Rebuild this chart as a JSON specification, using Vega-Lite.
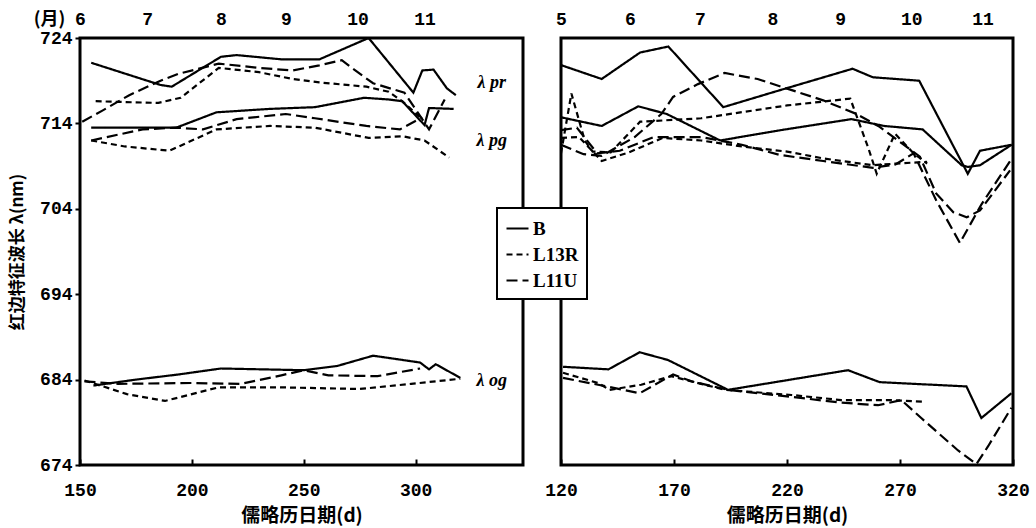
{
  "$schema": "https://vega.github.io/schema/vega-lite/v6.json",
  "padding": {"left": 7, "top": 8, "right": 5, "bottom": 1},
  "spacing": 18,
  "config": {
    "view": {"stroke": "black", "strokeWidth": 3},
    "axis": {"grid": false, "domain": false, "labelFont": "Liberation Mono", "labelFontWeight": "bold", "labelFontSize": 18, "labelColor": "black", "titleColor": "black", "tickColor": "black", "tickWidth": 2, "labelFlush": false, "labelOverlap": false, "titleFont": "Noto Sans CJK SC", "titleFontWeight": "bold", "titleFontSize": 18},
    "line": {"strokeWidth": 2.2, "color": "black"},
    "legend": {"orient": "none", "legendX": 417, "legendY": 170, "fillColor": "white", "strokeColor": "black", "strokeWidth": 2, "padding": 8, "rowPadding": 3, "symbolType": "stroke", "symbolSize": 484, "symbolStrokeWidth": 2, "symbolStrokeColor": "black", "labelFont": "Liberation Serif", "labelFontWeight": "bold", "labelFontSize": 19, "labelColor": "black", "labelOffset": 3, "symbolOffset": 0, "zindex": 5}
  },
  "datasets": {
    "lines": [
      {"panel":"L","group":"pr","series":"B","day":155,"value":721.1},
      {"panel":"L","group":"pr","series":"B","day":186,"value":718.5},
      {"panel":"L","group":"pr","series":"B","day":191,"value":718.3},
      {"panel":"L","group":"pr","series":"B","day":213,"value":721.8},
      {"panel":"L","group":"pr","series":"B","day":220,"value":722},
      {"panel":"L","group":"pr","series":"B","day":240,"value":721.5},
      {"panel":"L","group":"pr","series":"B","day":257,"value":721.5},
      {"panel":"L","group":"pr","series":"B","day":279,"value":724},
      {"panel":"L","group":"pr","series":"B","day":299,"value":717.6},
      {"panel":"L","group":"pr","series":"B","day":303,"value":720.2},
      {"panel":"L","group":"pr","series":"B","day":308,"value":720.3},
      {"panel":"L","group":"pr","series":"B","day":314,"value":718.1},
      {"panel":"L","group":"pr","series":"B","day":318,"value":717.3},

      {"panel":"L","group":"pr","series":"L11U","day":151,"value":714.2},
      {"panel":"L","group":"pr","series":"L11U","day":160,"value":715.5},
      {"panel":"L","group":"pr","series":"L11U","day":172,"value":717.3},
      {"panel":"L","group":"pr","series":"L11U","day":186,"value":719},
      {"panel":"L","group":"pr","series":"L11U","day":194,"value":719.8},
      {"panel":"L","group":"pr","series":"L11U","day":212,"value":721},
      {"panel":"L","group":"pr","series":"L11U","day":230,"value":720.5},
      {"panel":"L","group":"pr","series":"L11U","day":245,"value":720.2},
      {"panel":"L","group":"pr","series":"L11U","day":257,"value":720.8},
      {"panel":"L","group":"pr","series":"L11U","day":267,"value":721.4},
      {"panel":"L","group":"pr","series":"L11U","day":272,"value":720.4},
      {"panel":"L","group":"pr","series":"L11U","day":281,"value":718.7},
      {"panel":"L","group":"pr","series":"L11U","day":295,"value":717.6},
      {"panel":"L","group":"pr","series":"L11U","day":306,"value":713.3},
      {"panel":"L","group":"pr","series":"L11U","day":313,"value":716.8},

      {"panel":"L","group":"pr","series":"L13R","day":157,"value":716.6},
      {"panel":"L","group":"pr","series":"L13R","day":170,"value":716.5},
      {"panel":"L","group":"pr","series":"L13R","day":185,"value":716.4},
      {"panel":"L","group":"pr","series":"L13R","day":195,"value":717},
      {"panel":"L","group":"pr","series":"L13R","day":212,"value":720.5},
      {"panel":"L","group":"pr","series":"L13R","day":230,"value":720},
      {"panel":"L","group":"pr","series":"L13R","day":245,"value":719.2},
      {"panel":"L","group":"pr","series":"L13R","day":257,"value":718.8},
      {"panel":"L","group":"pr","series":"L13R","day":278,"value":718.3},
      {"panel":"L","group":"pr","series":"L13R","day":288,"value":717.7},
      {"panel":"L","group":"pr","series":"L13R","day":294,"value":716.6},
      {"panel":"L","group":"pr","series":"L13R","day":303,"value":714.5},

      {"panel":"L","group":"pg","series":"B","day":155,"value":713.5},
      {"panel":"L","group":"pg","series":"B","day":193,"value":713.5},
      {"panel":"L","group":"pg","series":"B","day":211,"value":715.3},
      {"panel":"L","group":"pg","series":"B","day":235,"value":715.7},
      {"panel":"L","group":"pg","series":"B","day":255,"value":715.9},
      {"panel":"L","group":"pg","series":"B","day":277,"value":717},
      {"panel":"L","group":"pg","series":"B","day":288,"value":716.8},
      {"panel":"L","group":"pg","series":"B","day":294,"value":716.6},
      {"panel":"L","group":"pg","series":"B","day":304,"value":713.8},
      {"panel":"L","group":"pg","series":"B","day":306,"value":715.8},
      {"panel":"L","group":"pg","series":"B","day":317,"value":715.7},

      {"panel":"L","group":"pg","series":"L11U","day":155,"value":712},
      {"panel":"L","group":"pg","series":"L11U","day":178,"value":713.3},
      {"panel":"L","group":"pg","series":"L11U","day":193,"value":713.5},
      {"panel":"L","group":"pg","series":"L11U","day":205,"value":713.3},
      {"panel":"L","group":"pg","series":"L11U","day":220,"value":714.5},
      {"panel":"L","group":"pg","series":"L11U","day":242,"value":715.1},
      {"panel":"L","group":"pg","series":"L11U","day":255,"value":714.6},
      {"panel":"L","group":"pg","series":"L11U","day":278,"value":713.7},
      {"panel":"L","group":"pg","series":"L11U","day":293,"value":713.3},
      {"panel":"L","group":"pg","series":"L11U","day":303,"value":714.7},

      {"panel":"L","group":"pg","series":"L13R","day":155,"value":712},
      {"panel":"L","group":"pg","series":"L13R","day":170,"value":711.3},
      {"panel":"L","group":"pg","series":"L13R","day":190,"value":710.8},
      {"panel":"L","group":"pg","series":"L13R","day":211,"value":713.3},
      {"panel":"L","group":"pg","series":"L13R","day":235,"value":713.7},
      {"panel":"L","group":"pg","series":"L13R","day":255,"value":713.5},
      {"panel":"L","group":"pg","series":"L13R","day":279,"value":712.3},
      {"panel":"L","group":"pg","series":"L13R","day":294,"value":712.5},
      {"panel":"L","group":"pg","series":"L13R","day":304,"value":712},
      {"panel":"L","group":"pg","series":"L13R","day":315,"value":710},

      {"panel":"L","group":"og","series":"B","day":156,"value":683.3},
      {"panel":"L","group":"og","series":"B","day":175,"value":684},
      {"panel":"L","group":"og","series":"B","day":194,"value":684.6},
      {"panel":"L","group":"og","series":"B","day":213,"value":685.3},
      {"panel":"L","group":"og","series":"B","day":250,"value":685.1},
      {"panel":"L","group":"og","series":"B","day":265,"value":685.6},
      {"panel":"L","group":"og","series":"B","day":281,"value":686.8},
      {"panel":"L","group":"og","series":"B","day":302,"value":686},
      {"panel":"L","group":"og","series":"B","day":306,"value":685.2},
      {"panel":"L","group":"og","series":"B","day":309,"value":685.8},
      {"panel":"L","group":"og","series":"B","day":320,"value":684.2},

      {"panel":"L","group":"og","series":"L11U","day":152,"value":683.8},
      {"panel":"L","group":"og","series":"L11U","day":167,"value":683.5},
      {"panel":"L","group":"og","series":"L11U","day":200,"value":683.6},
      {"panel":"L","group":"og","series":"L11U","day":222,"value":683.5},
      {"panel":"L","group":"og","series":"L11U","day":240,"value":684.5},
      {"panel":"L","group":"og","series":"L11U","day":250,"value":685.1},
      {"panel":"L","group":"og","series":"L11U","day":261,"value":684.5},
      {"panel":"L","group":"og","series":"L11U","day":283,"value":684.4},
      {"panel":"L","group":"og","series":"L11U","day":302,"value":685.3},

      {"panel":"L","group":"og","series":"L13R","day":152,"value":683.9},
      {"panel":"L","group":"og","series":"L13R","day":171,"value":682.3},
      {"panel":"L","group":"og","series":"L13R","day":188,"value":681.5},
      {"panel":"L","group":"og","series":"L13R","day":212,"value":683.1},
      {"panel":"L","group":"og","series":"L13R","day":238,"value":683.1},
      {"panel":"L","group":"og","series":"L13R","day":275,"value":682.9},
      {"panel":"L","group":"og","series":"L13R","day":298,"value":683.5},
      {"panel":"L","group":"og","series":"L13R","day":320,"value":684.1},

      {"panel":"R","group":"pr","series":"B","day":120.3,"value":720.8},
      {"panel":"R","group":"pr","series":"B","day":138,"value":719.2},
      {"panel":"R","group":"pr","series":"B","day":155,"value":722.3},
      {"panel":"R","group":"pr","series":"B","day":167.5,"value":723},
      {"panel":"R","group":"pr","series":"B","day":191.8,"value":715.9},
      {"panel":"R","group":"pr","series":"B","day":217,"value":717.9},
      {"panel":"R","group":"pr","series":"B","day":249,"value":720.4},
      {"panel":"R","group":"pr","series":"B","day":258,"value":719.4},
      {"panel":"R","group":"pr","series":"B","day":278.5,"value":719},
      {"panel":"R","group":"pr","series":"B","day":300,"value":708.1},
      {"panel":"R","group":"pr","series":"B","day":305.4,"value":710.8},
      {"panel":"R","group":"pr","series":"B","day":319.4,"value":711.5},

      {"panel":"R","group":"pg","series":"B","day":120.3,"value":714.7},
      {"panel":"R","group":"pg","series":"B","day":138,"value":713.7},
      {"panel":"R","group":"pg","series":"B","day":154.2,"value":716},
      {"panel":"R","group":"pg","series":"B","day":166.8,"value":715.1},
      {"panel":"R","group":"pg","series":"B","day":190.4,"value":712},
      {"panel":"R","group":"pg","series":"B","day":217,"value":713.2},
      {"panel":"R","group":"pg","series":"B","day":248.5,"value":714.5},
      {"panel":"R","group":"pg","series":"B","day":263,"value":713.7},
      {"panel":"R","group":"pg","series":"B","day":280,"value":713.3},
      {"panel":"R","group":"pg","series":"B","day":297.3,"value":709.1},
      {"panel":"R","group":"pg","series":"B","day":300,"value":708.9},
      {"panel":"R","group":"pg","series":"B","day":305.4,"value":709.1},
      {"panel":"R","group":"pg","series":"B","day":319.4,"value":711.5},

      {"panel":"R","group":"pr","series":"L11U","day":120,"value":711.5},
      {"panel":"R","group":"pr","series":"L11U","day":130,"value":710.4},
      {"panel":"R","group":"pr","series":"L11U","day":138,"value":710.2},
      {"panel":"R","group":"pr","series":"L11U","day":152.6,"value":712.4},
      {"panel":"R","group":"pr","series":"L11U","day":164.4,"value":715.1},
      {"panel":"R","group":"pr","series":"L11U","day":169.6,"value":717.1},
      {"panel":"R","group":"pr","series":"L11U","day":180.6,"value":718.6},
      {"panel":"R","group":"pr","series":"L11U","day":192.4,"value":719.9},
      {"panel":"R","group":"pr","series":"L11U","day":207,"value":719.2},
      {"panel":"R","group":"pr","series":"L11U","day":219.7,"value":718.1},
      {"panel":"R","group":"pr","series":"L11U","day":236,"value":716.7},
      {"panel":"R","group":"pr","series":"L11U","day":250.8,"value":715.1},
      {"panel":"R","group":"pr","series":"L11U","day":261,"value":713.6},
      {"panel":"R","group":"pr","series":"L11U","day":278.8,"value":710.1},
      {"panel":"R","group":"pr","series":"L11U","day":286,"value":705.8},
      {"panel":"R","group":"pr","series":"L11U","day":293.6,"value":703.6},
      {"panel":"R","group":"pr","series":"L11U","day":299.5,"value":703},
      {"panel":"R","group":"pr","series":"L11U","day":305.4,"value":703.8},
      {"panel":"R","group":"pr","series":"L11U","day":318.7,"value":708.5},

      {"panel":"R","group":"pr","series":"L13R","day":120,"value":710.5},
      {"panel":"R","group":"pr","series":"L13R","day":124.6,"value":717.5},
      {"panel":"R","group":"pr","series":"L13R","day":130.5,"value":712},
      {"panel":"R","group":"pr","series":"L13R","day":134,"value":710.7},
      {"panel":"R","group":"pr","series":"L13R","day":142,"value":710.6},
      {"panel":"R","group":"pr","series":"L13R","day":155,"value":714.2},
      {"panel":"R","group":"pr","series":"L13R","day":162,"value":714.3},
      {"panel":"R","group":"pr","series":"L13R","day":182,"value":714.6},
      {"panel":"R","group":"pr","series":"L13R","day":220,"value":716.1},
      {"panel":"R","group":"pr","series":"L13R","day":248,"value":716.9},
      {"panel":"R","group":"pr","series":"L13R","day":256,"value":711.1},
      {"panel":"R","group":"pr","series":"L13R","day":259.7,"value":708.1},
      {"panel":"R","group":"pr","series":"L13R","day":267.8,"value":712.8},
      {"panel":"R","group":"pr","series":"L13R","day":276,"value":710.5},
      {"panel":"R","group":"pr","series":"L13R","day":282,"value":709.3},

      {"panel":"R","group":"pg","series":"L11U","day":120,"value":713.2},
      {"panel":"R","group":"pg","series":"L11U","day":127,"value":713.5},
      {"panel":"R","group":"pg","series":"L11U","day":136,"value":710.5},
      {"panel":"R","group":"pg","series":"L11U","day":146,"value":710.8},
      {"panel":"R","group":"pg","series":"L11U","day":161,"value":712.4},
      {"panel":"R","group":"pg","series":"L11U","day":182,"value":712.4},
      {"panel":"R","group":"pg","series":"L11U","day":200,"value":711.5},
      {"panel":"R","group":"pg","series":"L11U","day":217,"value":710.3},
      {"panel":"R","group":"pg","series":"L11U","day":236,"value":709.6},
      {"panel":"R","group":"pg","series":"L11U","day":258,"value":708.8},
      {"panel":"R","group":"pg","series":"L11U","day":268,"value":709.2},
      {"panel":"R","group":"pg","series":"L11U","day":276,"value":710.5},
      {"panel":"R","group":"pg","series":"L11U","day":286,"value":705},
      {"panel":"R","group":"pg","series":"L11U","day":296.5,"value":700},
      {"panel":"R","group":"pg","series":"L11U","day":306,"value":704.5},
      {"panel":"R","group":"pg","series":"L11U","day":319,"value":709.7},

      {"panel":"R","group":"pg","series":"L13R","day":120,"value":712.3},
      {"panel":"R","group":"pg","series":"L13R","day":128,"value":712.4},
      {"panel":"R","group":"pg","series":"L13R","day":138,"value":709.6},
      {"panel":"R","group":"pg","series":"L13R","day":150,"value":710.6},
      {"panel":"R","group":"pg","series":"L13R","day":165,"value":712.3},
      {"panel":"R","group":"pg","series":"L13R","day":182,"value":712},
      {"panel":"R","group":"pg","series":"L13R","day":200,"value":711.3},
      {"panel":"R","group":"pg","series":"L13R","day":220,"value":710.7},
      {"panel":"R","group":"pg","series":"L13R","day":236,"value":709.9},
      {"panel":"R","group":"pg","series":"L13R","day":258,"value":709.1},
      {"panel":"R","group":"pg","series":"L13R","day":268.5,"value":709.3},
      {"panel":"R","group":"pg","series":"L13R","day":282,"value":709.5},

      {"panel":"R","group":"og","series":"B","day":120.9,"value":685.5},
      {"panel":"R","group":"og","series":"B","day":141,"value":685.2},
      {"panel":"R","group":"og","series":"B","day":154.8,"value":687.2},
      {"panel":"R","group":"og","series":"B","day":167.3,"value":686.3},
      {"panel":"R","group":"og","series":"B","day":193.9,"value":682.8},
      {"panel":"R","group":"og","series":"B","day":247,"value":685.1},
      {"panel":"R","group":"og","series":"B","day":261,"value":683.7},
      {"panel":"R","group":"og","series":"B","day":299.4,"value":683.2},
      {"panel":"R","group":"og","series":"B","day":306,"value":679.5},
      {"panel":"R","group":"og","series":"B","day":319.3,"value":682.4},

      {"panel":"R","group":"og","series":"L13R","day":120.9,"value":684.8},
      {"panel":"R","group":"og","series":"L13R","day":136.4,"value":683.6},
      {"panel":"R","group":"og","series":"L13R","day":141.5,"value":682.8},
      {"panel":"R","group":"og","series":"L13R","day":155.5,"value":683.4},
      {"panel":"R","group":"og","series":"L13R","day":168.8,"value":684.4},
      {"panel":"R","group":"og","series":"L13R","day":192.4,"value":682.8},
      {"panel":"R","group":"og","series":"L13R","day":222,"value":682.2},
      {"panel":"R","group":"og","series":"L13R","day":244,"value":681.6},
      {"panel":"R","group":"og","series":"L13R","day":266,"value":681.6},
      {"panel":"R","group":"og","series":"L13R","day":281,"value":681.4},

      {"panel":"R","group":"og","series":"L11U","day":120.9,"value":684.2},
      {"panel":"R","group":"og","series":"L11U","day":136.4,"value":683.4},
      {"panel":"R","group":"og","series":"L11U","day":154.8,"value":682.4},
      {"panel":"R","group":"og","series":"L11U","day":169.6,"value":684.6},
      {"panel":"R","group":"og","series":"L11U","day":177.7,"value":683.8},
      {"panel":"R","group":"og","series":"L11U","day":193.9,"value":682.8},
      {"panel":"R","group":"og","series":"L11U","day":214.6,"value":682.2},
      {"panel":"R","group":"og","series":"L11U","day":244,"value":681.3},
      {"panel":"R","group":"og","series":"L11U","day":260.3,"value":681},
      {"panel":"R","group":"og","series":"L11U","day":270.6,"value":681.6},
      {"panel":"R","group":"og","series":"L11U","day":279.4,"value":679.5},
      {"panel":"R","group":"og","series":"L11U","day":295.7,"value":675.7},
      {"panel":"R","group":"og","series":"L11U","day":303.8,"value":674.1},
      {"panel":"R","group":"og","series":"L11U","day":309,"value":676.2},
      {"panel":"R","group":"og","series":"L11U","day":319.3,"value":680.7}
    ],
    "labels": [
      {"day": 334, "value": 718.7, "label": "λ pr"},
      {"day": 334, "value": 711.9, "label": "λ pg"},
      {"day": 334, "value": 683.8, "label": "λ og"}
    ]
  },
  "hconcat": [
    {
      "width": 443,
      "height": 427,
      "resolve": {"axis": {"x": "independent", "y": "independent"}},
      "layer": [
        {
          "data": {"name": "lines"},
          "transform": [{"filter": "datum.panel === 'L'"}],
          "mark": {"type": "line", "clip": true},
          "encoding": {
            "x": {"field": "day", "type": "quantitative", "scale": {"domain": [150, 348], "nice": false, "zero": false},
              "axis": {"orient": "bottom", "values": [150, 200, 250, 300], "title": "儒略历日期(d)", "tickSize": -6, "labelPadding": 22, "titlePadding": 7, "titleFontSize": 19}},
            "y": {"field": "value", "type": "quantitative", "scale": {"domain": [674, 724], "nice": false, "zero": false},
              "axis": {"values": [674, 684, 694, 704, 714, 724], "title": "红边特征波长 λ(nm)", "tickSize": 5, "labelPadding": 3, "titlePadding": 13, "titleFontSize": 17,
                "encode": {"labels": {"update": {"dy": {"signal": "datum.value === 684 ? 9 : datum.value === 674 ? 8 : 0"}}}}}},
            "strokeDash": {"field": "series", "type": "nominal", "scale": {"domain": ["B", "L13R", "L11U"], "range": [[1, 0], [6, 4], [11, 5]]}, "legend": {"title": null}},
            "detail": {"field": "group"}
          }
        },
        {
          "data": {"name": "labels"},
          "mark": {"type": "text", "font": "Liberation Serif", "fontStyle": "italic", "fontWeight": "bold", "fontSize": 18, "align": "center", "baseline": "middle", "color": "black"},
          "encoding": {
            "x": {"field": "day", "type": "quantitative", "scale": {"domain": [150, 348], "nice": false, "zero": false},
              "axis": {"orient": "top", "values": [150, 180, 213, 242, 274, 304], "ticks": false, "tickSize": 0, "labelPadding": 10,
                "labelExpr": "datum.value < 165 ? '6' : datum.value < 196 ? '7' : datum.value < 227 ? '8' : datum.value < 258 ? '9' : datum.value < 289 ? '10' : '11'",
                "title": "(月)", "titleX": -31, "titleY": -19, "titleAngle": 0, "titleAlign": "center", "titleBaseline": "middle", "titleFontSize": 18}},
            "y": {"field": "value", "type": "quantitative", "axis": null},
            "text": {"field": "label"}
          }
        }
      ]
    },
    {
      "width": 452,
      "height": 427,
      "resolve": {"axis": {"x": "independent", "y": "independent"}},
      "layer": [
        {
          "data": {"name": "lines"},
          "transform": [{"filter": "datum.panel === 'R' && datum.group !== 'og'"}],
          "mark": {"type": "line", "clip": true},
          "encoding": {
            "x": {"field": "day", "type": "quantitative", "scale": {"domain": [120, 320], "nice": false, "zero": false},
              "axis": {"orient": "top", "values": [120, 150.5, 181.5, 213.5, 243.5, 275, 306.5], "ticks": false, "tickSize": 0, "labelPadding": 10,
                "labelExpr": "datum.value < 135 ? '5' : datum.value < 166 ? '6' : datum.value < 197 ? '7' : datum.value < 228 ? '8' : datum.value < 259 ? '9' : datum.value < 290 ? '10' : '11'",
                "title": null}},
            "y": {"field": "value", "type": "quantitative", "scale": {"domain": [674, 724], "nice": false, "zero": false}, "axis": null},
            "strokeDash": {"field": "series", "type": "nominal", "scale": {"domain": ["B", "L13R", "L11U"], "range": [[1, 0], [6, 4], [11, 5]]}, "legend": {"title": null}},
            "detail": {"field": "group"}
          }
        },
        {
          "data": {"name": "lines"},
          "transform": [{"filter": "datum.panel === 'R' && datum.group === 'og'"}],
          "mark": {"type": "line", "clip": true},
          "encoding": {
            "x": {"field": "day", "type": "quantitative", "scale": {"domain": [120, 320], "nice": false, "zero": false},
              "axis": {"orient": "bottom", "values": [120, 170, 220, 270, 320], "title": "儒略历日期(d)", "tickSize": -6, "labelPadding": 22, "titlePadding": 7, "titleFontSize": 19}},
            "y": {"field": "value", "type": "quantitative", "scale": {"domain": [674, 724], "nice": false, "zero": false}, "axis": null},
            "strokeDash": {"field": "series", "type": "nominal", "scale": {"domain": ["B", "L13R", "L11U"], "range": [[1, 0], [6, 4], [11, 5]]}, "legend": {"title": null}},
            "detail": {"field": "group"}
          }
        }
      ]
    }
  ]
}
